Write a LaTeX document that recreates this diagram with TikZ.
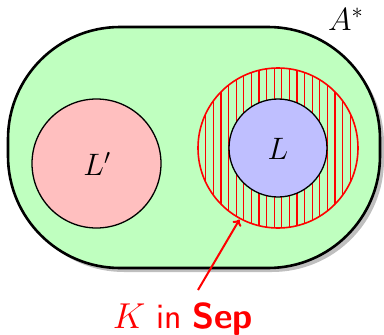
\RequirePackage{fix-cm}
\documentclass[tikz,border=0pt]{standalone}
\usetikzlibrary{arrows.meta}
\newcommand{\univpath}{(120,27) -- (268,27) arc[start angle=270, end angle=360, radius=112] -- (380,156) arc[start angle=0, end angle=90, radius=112] -- (120,268) arc[start angle=90, end angle=180, radius=112] -- (8,139) arc[start angle=180, end angle=270, radius=112] -- cycle}
\begin{document}
\begin{tikzpicture}[x=1pt,y=-1pt,
  lbl/.style={font=\fontsize{31}{36}\selectfont, inner sep=0pt},
  setcircle/.style={draw=black, line width=1.3pt},
  hatch/.style={red, line width=1.2pt}]
\useasboundingbox (0,0) rectangle (384,335);
% shadow
\begin{scope}[shift={(4,4)}]
  \fill[black!25] \univpath;
\end{scope}
% universe
\draw[fill=green!25, line width=2.6pt] \univpath;
% L'
\draw[setcircle, fill=red!25] (96.5,163.5) circle (64.5);
\node[lbl] (lp) at (97,164) {$L'$};
% hatched K
\begin{scope}
  \clip (278,148) circle (80);
  \foreach \i in {-10,...,10} \draw[hatch] (278+7.6*\i+3.8,60) -- (278+7.6*\i+3.8,240);
\end{scope}
\draw[red, line width=1.6pt] (278,148) circle (80);
\coordinate (ktip) at (239.5,219.5);
% L
\draw[setcircle, fill=blue!25] (278,148) circle (49);
\node[lbl] (l) at (278,149) {$L$};
% A*
\node[lbl, font=\fontsize{32}{38}\selectfont, anchor=base west] (a) at (328,30) {$A^*$};
% label
\node[lbl, font=\fontsize{36}{42}\selectfont, red, anchor=base] (k) at (183,328) {$K$ \textsf{in} \textsf{\bfseries Sep}};
\coordinate (kstart) at (198,290);
\draw[red, line width=2pt, -{To[length=6pt,width=10pt]}] (kstart) -- (ktip);
\end{tikzpicture}
\end{document}
